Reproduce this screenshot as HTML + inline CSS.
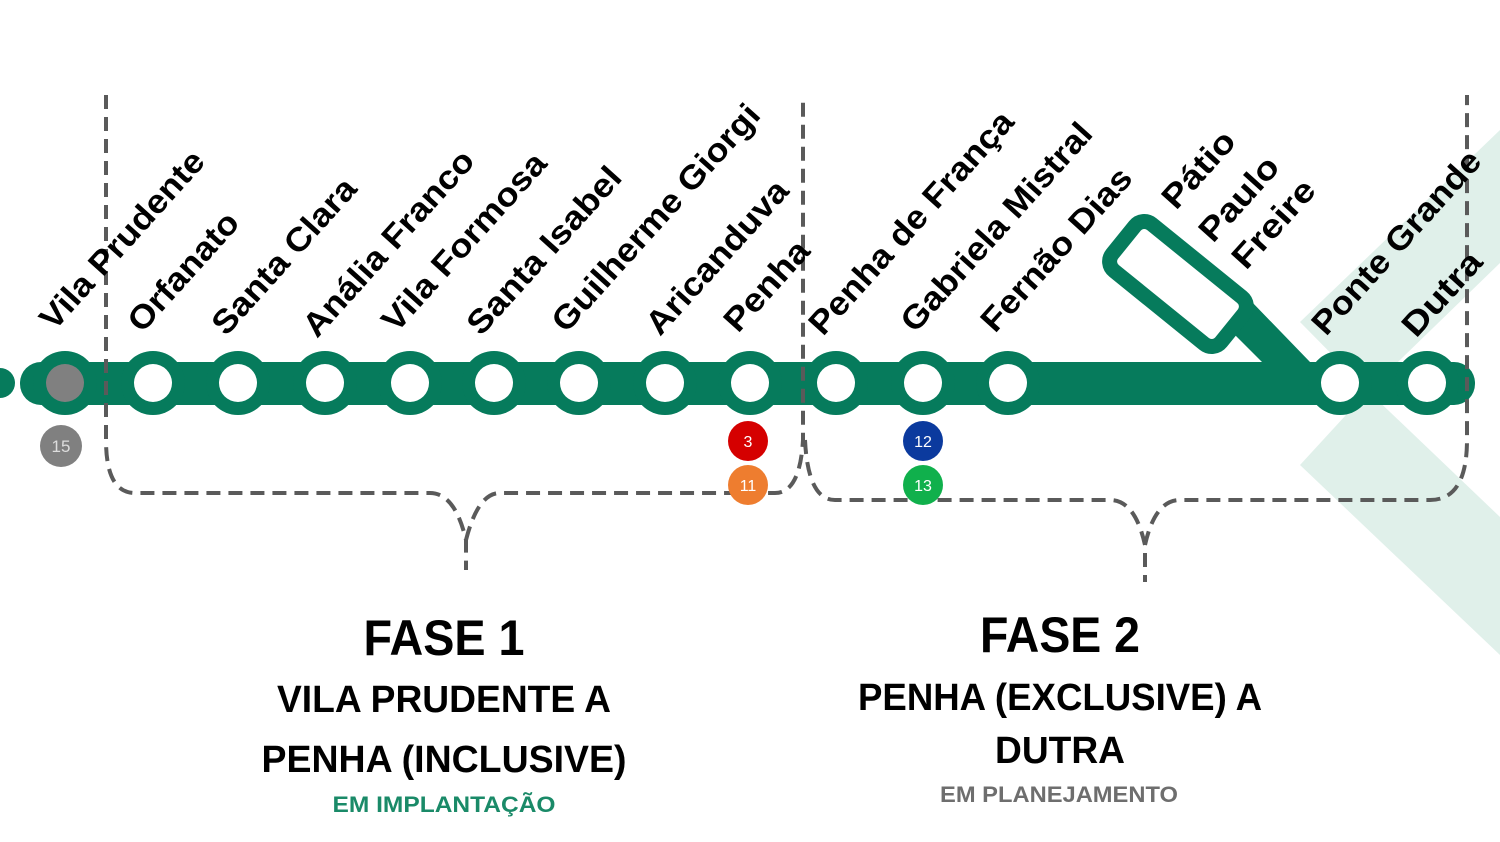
<!DOCTYPE html>
<html><head><meta charset="utf-8"><style>html,body{margin:0;padding:0;background:#fff}svg{display:block}</style></head>
<body>
<svg width="1500" height="842" viewBox="0 0 1500 842" xmlns="http://www.w3.org/2000/svg">
<polygon points="1500,130 1300,322 1368,391 1500,263" fill="#e0f0ea"/>
<polygon points="1368,391 1300,465 1500,655 1500,517" fill="#e0f0ea"/>
<g fill="#067b5c">
<rect x="20" y="362" width="1455" height="43" rx="21"/>
<circle cx="0" cy="383" r="15"/>
<circle cx="65" cy="383" r="32"/>
<circle cx="153" cy="383" r="32"/><circle cx="238" cy="383" r="32"/><circle cx="325" cy="383" r="32"/>
<circle cx="410" cy="383" r="32"/><circle cx="494" cy="383" r="32"/><circle cx="579" cy="383" r="32"/>
<circle cx="665" cy="383" r="32"/><circle cx="750" cy="383" r="32"/><circle cx="836" cy="383" r="32"/>
<circle cx="923" cy="383" r="32"/><circle cx="1008" cy="383" r="32"/><circle cx="1340" cy="383" r="32"/>
<circle cx="1427" cy="383" r="32"/>
<polygon points="1220,320 1250,300 1310,362 1262,362"/>
</g>
<rect x="-70" y="-30" width="140" height="60" rx="12" transform="translate(1178,284) rotate(39)" fill="#fff" stroke="#067b5c" stroke-width="15"/>
<circle cx="65" cy="383" r="19" fill="#808080"/>
<g fill="#fff">
<circle cx="153" cy="383" r="19"/><circle cx="238" cy="383" r="19"/><circle cx="325" cy="383" r="19"/>
<circle cx="410" cy="383" r="19"/><circle cx="494" cy="383" r="19"/><circle cx="579" cy="383" r="19"/>
<circle cx="665" cy="383" r="19"/><circle cx="750" cy="383" r="19"/><circle cx="836" cy="383" r="19"/>
<circle cx="923" cy="383" r="19"/><circle cx="1008" cy="383" r="19"/><circle cx="1340" cy="383" r="19"/>
<circle cx="1427" cy="383" r="19"/>
</g>
<g fill="none" stroke="#5a5a5a" stroke-width="4" stroke-dasharray="14,8">
<path d="M106,95 V440 Q106,493 135,493 H430 Q455,493 466,540 V570"/>
<path d="M466,540 Q478,493 500,493 H775 Q800,493 803,440 V95"/>
<path d="M805,440 Q808,500 835,500 H1110 Q1135,500 1145,545 V582"/>
<path d="M1145,545 Q1155,500 1180,500 H1430 Q1467,500 1467,440 V95"/>
</g>
<g font-family="Liberation Sans, sans-serif" font-size="14" text-anchor="middle" fill="#fff">
<circle cx="61" cy="446" r="21" fill="#808080"/><text x="61" y="452" font-size="17" fill="#ddd">15</text>
<circle cx="748" cy="441" r="20" fill="#d50000"/><text x="748" y="447" font-size="16">3</text>
<circle cx="748" cy="485" r="20" fill="#ee7d2f"/><text x="748" y="491" font-size="16">11</text>
<circle cx="923" cy="441" r="20" fill="#0b3a9e"/><text x="923" y="447" font-size="16">12</text>
<circle cx="923" cy="485" r="20" fill="#10b04c"/><text x="923" y="491" font-size="16">13</text>
</g>
<g font-family="Liberation Sans, sans-serif" font-weight="bold" font-size="33" fill="#000">
<text transform="translate(54,332) rotate(-48)" textLength="228" lengthAdjust="spacingAndGlyphs">Vila Prudente</text>
<text transform="translate(142,334) rotate(-48)" textLength="148" lengthAdjust="spacingAndGlyphs">Orfanato</text>
<text transform="translate(226,337) rotate(-48)" textLength="198" lengthAdjust="spacingAndGlyphs">Santa Clara</text>
<text transform="translate(317,339) rotate(-48)" textLength="238" lengthAdjust="spacingAndGlyphs">Anália Franco</text>
<text transform="translate(396,334) rotate(-48)" textLength="228" lengthAdjust="spacingAndGlyphs">Vila Formosa</text>
<text transform="translate(481,337) rotate(-48)" textLength="213" lengthAdjust="spacingAndGlyphs">Santa Isabel</text>
<text transform="translate(566,334) rotate(-48)" textLength="293" lengthAdjust="spacingAndGlyphs">Guilherme Giorgi</text>
<text transform="translate(660,337) rotate(-48)" textLength="195" lengthAdjust="spacingAndGlyphs">Aricanduva</text>
<text transform="translate(738,334) rotate(-48)" textLength="110" lengthAdjust="spacingAndGlyphs">Penha</text>
<text transform="translate(823,337) rotate(-48)" textLength="288" lengthAdjust="spacingAndGlyphs">Penha de França</text>
<text transform="translate(915,334) rotate(-48)" textLength="268" lengthAdjust="spacingAndGlyphs">Gabriela Mistral</text>
<text transform="translate(995,334) rotate(-48)" textLength="208" lengthAdjust="spacingAndGlyphs">Fernão Dias</text>
<text transform="translate(1176,211) rotate(-48)" textLength="92" lengthAdjust="spacingAndGlyphs">Pátio</text>
<text transform="translate(1213,244) rotate(-48)" textLength="102" lengthAdjust="spacingAndGlyphs">Paulo</text>
<text transform="translate(1246,271) rotate(-48)" textLength="107" lengthAdjust="spacingAndGlyphs">Freire</text>
<text transform="translate(1326,337) rotate(-48)" textLength="235" lengthAdjust="spacingAndGlyphs">Ponte Grande</text>
<text transform="translate(1416,339) rotate(-48)" textLength="102" lengthAdjust="spacingAndGlyphs">Dutra</text>
</g>
<g font-family="Liberation Sans, sans-serif" font-weight="bold" text-anchor="middle">
<text x="444" y="655" font-size="50" textLength="161" lengthAdjust="spacingAndGlyphs">FASE 1</text>
<text x="444" y="712" font-size="38" textLength="334" lengthAdjust="spacingAndGlyphs">VILA PRUDENTE A</text>
<text x="444" y="772" font-size="38" textLength="365" lengthAdjust="spacingAndGlyphs">PENHA (INCLUSIVE)</text>
<text x="444" y="812" font-size="22" fill="#1a8a68" textLength="223" lengthAdjust="spacingAndGlyphs">EM IMPLANTAÇÃO</text>
<text x="1060" y="652" font-size="50" textLength="160" lengthAdjust="spacingAndGlyphs">FASE 2</text>
<text x="1060" y="710" font-size="38" textLength="404" lengthAdjust="spacingAndGlyphs">PENHA (EXCLUSIVE) A</text>
<text x="1060" y="763" font-size="38" textLength="130" lengthAdjust="spacingAndGlyphs">DUTRA</text>
<text x="1059" y="802" font-size="22" fill="#6e6e6e" textLength="238" lengthAdjust="spacingAndGlyphs">EM PLANEJAMENTO</text>
</g>
</svg>
</body></html>
